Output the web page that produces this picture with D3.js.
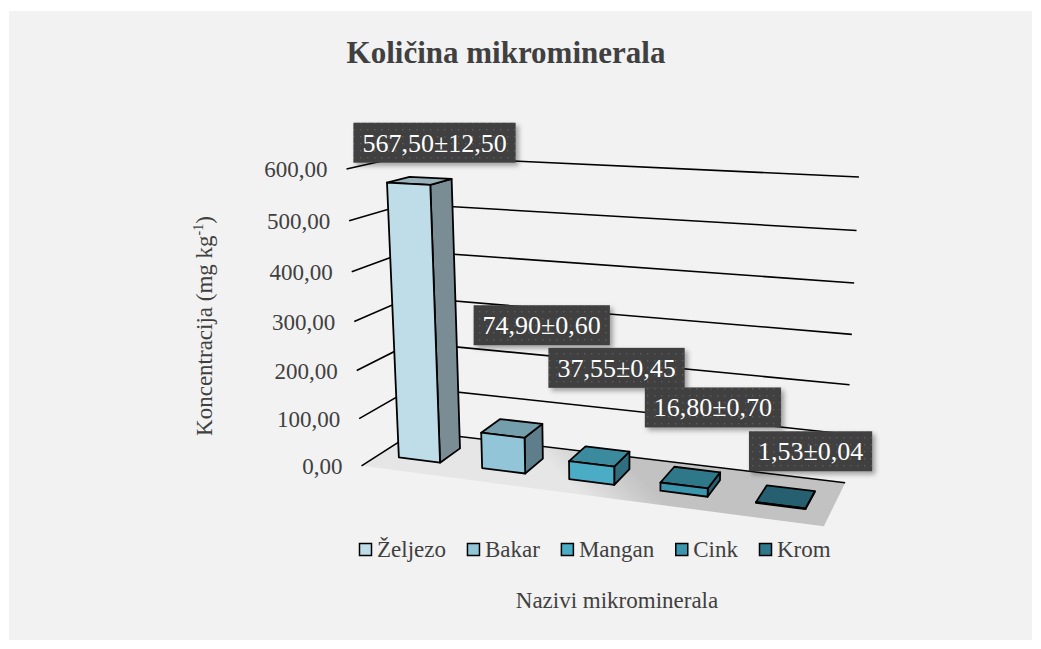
<!DOCTYPE html>
<html>
<head>
<meta charset="utf-8">
<script src="https://cdn.jsdelivr.net/npm/d3@7"></script>
<style>
  body { margin: 0; background: #fff; }
  svg { display: block; font-family: "Liberation Serif", "Times New Roman", serif; }
</style>
</head>
<body>
<div id="chart"></div>
<script>
// Data
const minerals = ["Željezo", "Bakar", "Mangan", "Cink", "Krom"];
const means = [567.50, 74.90, 37.55, 16.80, 1.53];
const errors = [12.50, 0.60, 0.45, 0.70, 0.04];
const yTicks = [0, 100, 200, 300, 400, 500, 600];
const colors = ["#bfdde9", "#92c5d8", "#4bacc6", "#3b96ad", "#2f788c"];

// data label offsets from the bar's front-top point (pixels)
const labelOffsets = [[26, -41], [39, -110], [25, -96], [29, -78], [30, -54]];

const W = 1041, H = 649;

// Plot box corners (unit box: x = categories, y = value, z = depth) as seen on screen
const boxCorners = [
  [0, 0, 0, 361, 466], [0, 1, 0, 347, 169], [0, 0, 1, 416, 431], [0, 1, 1, 404, 156],
  [1, 0, 1, 845, 483], [1, 1, 1, 859, 177], [1, 0, 0, 824, 526]
];

// Least-squares perspective camera from the box corners
function solveCamera(pts) {
  const A = [], b = [];
  pts.forEach(([X, Y, Z, u, v]) => {
    A.push([X, Y, Z, 1, 0, 0, 0, 0, -u * X, -u * Y, -u * Z]); b.push(u);
    A.push([0, 0, 0, 0, X, Y, Z, 1, -v * X, -v * Y, -v * Z]); b.push(v);
  });
  const n = 11;
  const M = d3.range(n).map(i => {
    const row = new Array(n + 1).fill(0);
    for (let j = 0; j < n; j++) for (let k = 0; k < A.length; k++) row[j] += A[k][i] * A[k][j];
    for (let k = 0; k < A.length; k++) row[n] += A[k][i] * b[k];
    return row;
  });
  for (let c = 0; c < n; c++) {
    let p = c;
    for (let r = c + 1; r < n; r++) if (Math.abs(M[r][c]) > Math.abs(M[p][c])) p = r;
    [M[c], M[p]] = [M[p], M[c]];
    for (let r = 0; r < n; r++) {
      if (r === c) continue;
      const f = M[r][c] / M[c][c];
      for (let k = c; k <= n; k++) M[r][k] -= f * M[c][k];
    }
  }
  return M.map((row, i) => row[n] / row[i]);
}
const P = solveCamera(boxCorners);
function project(x, y, z) {
  const w = P[8] * x + P[9] * y + P[10] * z + 1;
  return [(P[0] * x + P[1] * y + P[2] * z + P[3]) / w, (P[4] * x + P[5] * y + P[6] * z + P[7]) / w];
}

// Scales
const x = d3.scaleBand().domain(minerals).range([0, 1]).paddingInner(0.5).paddingOuter(0.25);
const y = d3.scaleLinear().domain([0, 600]).range([0, 1]);
const zFront = 0.3, zBack = 0.7;

const fmt = v => d3.format(".2f")(v).replace(".", ",");
const line = d3.line();

const svg = d3.select("#chart").append("svg").attr("width", W).attr("height", H);
const defs = svg.append("defs");

// Floor gradient
const fl0 = project(0.5, 0, 1), fl1 = project(0.5, 0, 0);
const grad = defs.append("linearGradient").attr("id", "floorGrad")
  .attr("gradientUnits", "userSpaceOnUse")
  .attr("x1", fl0[0]).attr("y1", fl0[1]).attr("x2", fl1[0]).attr("y2", fl1[1]);
grad.append("stop").attr("offset", 0).attr("stop-color", "#c2c2c2");
grad.append("stop").attr("offset", 1).attr("stop-color", "#e6e6e6");

// Label pattern + shadow
const pat = defs.append("pattern").attr("id", "dots").attr("patternUnits", "userSpaceOnUse")
  .attr("width", 7).attr("height", 7);
pat.append("rect").attr("width", 7).attr("height", 7).attr("fill", "#404040");
pat.append("rect").attr("x", 3).attr("y", 3).attr("width", 1.4).attr("height", 1.4).attr("fill", "#5c5c5c");
const sh = defs.append("filter").attr("id", "shadow").attr("x", "-20%").attr("y", "-30%").attr("width", "140%").attr("height", "170%");
sh.append("feDropShadow").attr("dx", 3).attr("dy", 3).attr("stdDeviation", 2.5)
  .attr("flood-color", "#000").attr("flood-opacity", 0.35);

// Background panel
svg.append("rect").attr("x", 9).attr("y", 11).attr("width", 1023).attr("height", 629).attr("fill", "#f2f2f2");

// Title
svg.append("text").attr("x", 506).attr("y", 63).attr("text-anchor", "middle")
  .attr("font-size", 31).attr("font-weight", "bold").attr("fill", "#404040")
  .text("Količina mikrominerala");

// Floor
svg.append("path")
  .attr("d", line([project(0, 0, 0), project(1, 0, 0), project(1, 0, 1), project(0, 0, 1)]) + "Z")
  .attr("fill", "url(#floorGrad)");

// Gridlines on side and back walls
const grid = svg.append("g");
yTicks.forEach(t => {
  grid.append("path")
    .attr("d", line([project(0, y(t), 0), project(0, y(t), 1), project(1, y(t), 1)]))
    .attr("fill", "none").attr("stroke", "#000").attr("stroke-width", 1.6);
  const p = project(0, y(t), 0);
  grid.append("text").attr("x", p[0] - 19).attr("y", p[1]).attr("dy", "0.35em")
    .attr("text-anchor", "end").attr("font-size", 23).attr("fill", "#404040")
    .text(fmt(t));
});

// Bars (left to right = far to near)
function shade(c, k) {
  const r = d3.rgb(c);
  return d3.rgb(r.r * k, r.g * k, r.b * k).formatHex();
}
const bars = svg.append("g");
minerals.forEach((m, i) => {
  const x0 = x(m), x1 = x(m) + x.bandwidth(), v = y(means[i]);
  const g = bars.append("g").attr("stroke", "#000").attr("stroke-width", 1.8).attr("stroke-linejoin", "round");
  // right side
  g.append("path").attr("d", line([project(x1, 0, zFront), project(x1, 0, zBack), project(x1, v, zBack), project(x1, v, zFront)]) + "Z")
    .attr("fill", shade(colors[i], 0.64));
  // top
  g.append("path").attr("d", line([project(x0, v, zFront), project(x1, v, zFront), project(x1, v, zBack), project(x0, v, zBack)]) + "Z")
    .attr("fill", shade(colors[i], 0.8));
  // front
  g.append("path").attr("d", line([project(x0, 0, zFront), project(x1, 0, zFront), project(x1, v, zFront), project(x0, v, zFront)]) + "Z")
    .attr("fill", colors[i]);
});

// Data labels
const labels = svg.append("g");
minerals.forEach((m, i) => {
  const a = project(x(m) + x.bandwidth() / 2, y(means[i]), zFront);
  const cx = a[0] + labelOffsets[i][0], cy = a[1] + labelOffsets[i][1];
  const g = labels.append("g");
  const t = g.append("text").attr("x", cx).attr("y", cy + 9).attr("text-anchor", "middle")
    .attr("font-size", 26).attr("fill", "#ffffff")
    .text(fmt(means[i]) + "±" + fmt(errors[i]));
  const tw = t.node().getComputedTextLength();
  g.insert("rect", "text").attr("x", cx - tw / 2 - 9).attr("y", cy - 20)
    .attr("width", tw + 18).attr("height", 40)
    .attr("fill", "url(#dots)").attr("filter", "url(#shadow)");
});

// Y axis title
svg.append("text").attr("transform", "translate(212,326) rotate(-90)")
  .attr("text-anchor", "middle").attr("font-size", 23).attr("fill", "#404040")
  .call(t => {
    t.append("tspan").text("Koncentracija (mg kg");
    t.append("tspan").attr("font-size", 14).attr("dy", -9).text("-1");
    t.append("tspan").attr("dy", 9).text(")");
  });

// Legend
const legend = svg.append("g");
let lx = 359;
minerals.forEach((m, i) => {
  legend.append("rect").attr("x", lx + 0.5).attr("y", 543.5).attr("width", 12).attr("height", 12)
    .attr("fill", colors[i]).attr("stroke", "#000").attr("stroke-width", 1.5);
  const t = legend.append("text").attr("x", lx + 18).attr("y", 557).attr("font-size", 23).attr("fill", "#404040").text(m);
  lx += 18 + t.node().getComputedTextLength() + 21;
});

// X axis title
svg.append("text").attr("x", 617).attr("y", 608).attr("text-anchor", "middle")
  .attr("font-size", 23).attr("fill", "#404040").text("Nazivi mikrominerala");
</script>
</body>
</html>
